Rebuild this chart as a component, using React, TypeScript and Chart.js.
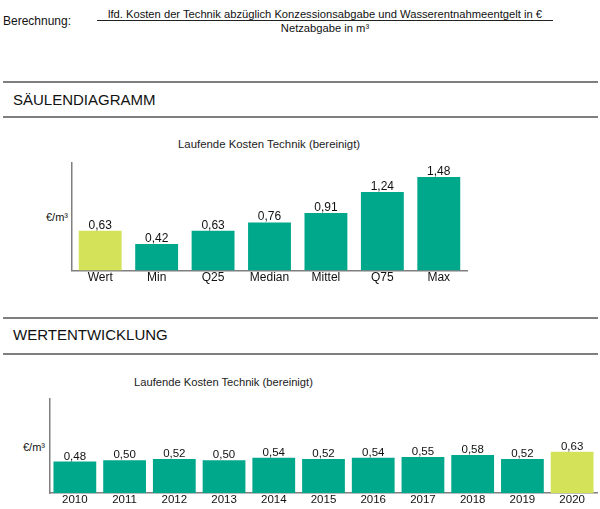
import React, { useEffect, useRef } from "react";
import { Chart, registerables } from "chart.js";

Chart.register(...registerables);

const FONT = '"Liberation Sans", Arial, sans-serif';

const categories1 = ["Wert", "Min", "Q25", "Median", "Mittel", "Q75", "Max"];
const values1 = [0.63, 0.42, 0.63, 0.76, 0.91, 1.24, 1.48];
const highlight1 = 0;

const years2 = ["2010", "2011", "2012", "2013", "2014", "2015", "2016", "2017", "2018", "2019", "2020"];
const values2 = [0.48, 0.5, 0.52, 0.5, 0.54, 0.52, 0.54, 0.55, 0.58, 0.52, 0.63];
const highlight2 = 10;

const TEAL = "#00a88b";
const LIME = "#d4e25a";
const AXIS = "#7f7f7f";

const valueLabels = {
  id: "valueLabels",
  afterDatasetsDraw(chart: any, _args: any, opts: any) {
    const ctx = chart.ctx;
    const meta = chart.getDatasetMeta(0);
    const data = chart.data.datasets[0].data as number[];
    ctx.save();
    ctx.font = `${opts.size || 12}px ${FONT}`;
    ctx.fillStyle = "#111";
    ctx.textAlign = "center";
    ctx.textBaseline = "alphabetic";
    meta.data.forEach((bar: any, i: number) => {
      ctx.fillText(data[i].toFixed(2).replace(".", ","), bar.x, bar.y - 2);
    });
    ctx.restore();
  },
};

type BarProps = {
  labels: string[];
  values: number[];
  highlight: number;
  yMax: number;
  barPct: number;
  fontSize: number;
  padding: { left: number; right: number; top: number; bottom: number };
  style: React.CSSProperties;
};

function BarChart(p: BarProps) {
  const ref = useRef<HTMLCanvasElement | null>(null);
  useEffect(() => {
    if (!ref.current) return;
    const chart = new Chart(ref.current, {
      type: "bar",
      data: {
        labels: p.labels,
        datasets: [
          {
            data: p.values,
            backgroundColor: p.values.map((_, i) => (i === p.highlight ? LIME : TEAL)),
            borderWidth: 0,
            barPercentage: p.barPct,
            categoryPercentage: 1,
          },
        ],
      },
      options: {
        animation: false,
        responsive: false,
        maintainAspectRatio: false,
        devicePixelRatio: 1,
        layout: { padding: p.padding },
        plugins: {
          legend: { display: false },
          tooltip: { enabled: false },
          title: { display: false },
          valueLabels: { size: p.fontSize },
        } as any,
        scales: {
          x: {
            grid: { display: false, drawTicks: false },
            border: { display: true, color: AXIS, width: 1.5 },
            ticks: {
              padding: 0,
              color: "#111",
              font: { family: FONT, size: p.fontSize },
              maxRotation: 0,
              autoSkip: false,
            },
          },
          y: {
            min: 0,
            max: p.yMax,
            grid: { display: false, drawTicks: false },
            border: { display: true, color: AXIS, width: 1.5 },
            ticks: { display: false },
          },
        },
      },
      plugins: [valueLabels],
    });
    return () => chart.destroy();
  }, []);
  const w = p.style.width as number;
  const h = p.style.height as number;
  return <canvas ref={ref} width={w} height={h} style={{ position: "absolute", ...p.style }} />;
}

const abs = (s: React.CSSProperties): React.CSSProperties => ({
  position: "absolute",
  whiteSpace: "nowrap",
  fontFamily: FONT,
  color: "#111",
  margin: 0,
  ...s,
});

export default function App() {
  return (
    <div style={{ position: "absolute", left: 0, top: 0, width: 600, height: 509, background: "#fff", overflow: "hidden", fontFamily: FONT }}>
      {/* Header formula */}
      <div style={abs({ left: 3, top: 14, fontSize: 12, lineHeight: "15px" })}>Berechnung:</div>
      <div style={abs({ left: 97, width: 456, top: 7, fontSize: 11.2, lineHeight: "14px", textAlign: "center" })}>
        lfd. Kosten der Technik abzüglich Konzessionsabgabe und Wasserentnahmeentgelt in €
      </div>
      <div style={abs({ left: 97, width: 456, top: 20, height: 0, borderTop: "1px solid #222" })} />
      <div style={abs({ left: 97, width: 456, top: 21, fontSize: 11.2, lineHeight: "14px", textAlign: "center" })}>
        Netzabgabe in m³
      </div>

      {/* Section 1 */}
      <div style={abs({ left: 3, width: 595, top: 81, height: 0, borderTop: "2px solid " + AXIS })} />
      <div style={abs({ left: 13, top: 91, fontSize: 15, lineHeight: "18px" })}>SÄULENDIAGRAMM</div>
      <div style={abs({ left: 3, width: 595, top: 116, height: 0, borderTop: "2px solid " + AXIS })} />
      <div style={abs({ left: 178, top: 137, fontSize: 11.4, lineHeight: "14px", color: "#222" })}>
        Laufende Kosten Technik (bereinigt)
      </div>
      <div style={abs({ left: 46, top: 210, fontSize: 11, lineHeight: "14px" })}>€/m³</div>
      <BarChart
        labels={categories1}
        values={values1}
        highlight={highlight1}
        yMax={1.7}
        barPct={0.76}
        fontSize={12}
        padding={{ left: 72, right: 133, top: 8, bottom: 15 }}
        style={{ left: 0, top: 155, width: 600, height: 145 }}
      />

      {/* Section 2 */}
      <div style={abs({ left: 3, width: 595, top: 317, height: 0, borderTop: "2px solid " + AXIS })} />
      <div style={abs({ left: 13, top: 326, fontSize: 15, lineHeight: "18px" })}>WERTENTWICKLUNG</div>
      <div style={abs({ left: 3, width: 595, top: 353, height: 0, borderTop: "2px solid " + AXIS })} />
      <div style={abs({ left: 134, top: 375, fontSize: 11.2, lineHeight: "14px", color: "#222" })}>
        Laufende Kosten Technik (bereinigt)
      </div>
      <div style={abs({ left: 23, top: 440, fontSize: 11, lineHeight: "14px" })}>€/m³</div>
      <BarChart
        labels={years2}
        values={values2}
        highlight={highlight2}
        yMax={1.43}
        barPct={0.86}
        fontSize={11.5}
        padding={{ left: 50, right: 3, top: 9, bottom: 2 }}
        style={{ left: 0, top: 390, width: 600, height: 119 }}
      />
    </div>
  );
}
